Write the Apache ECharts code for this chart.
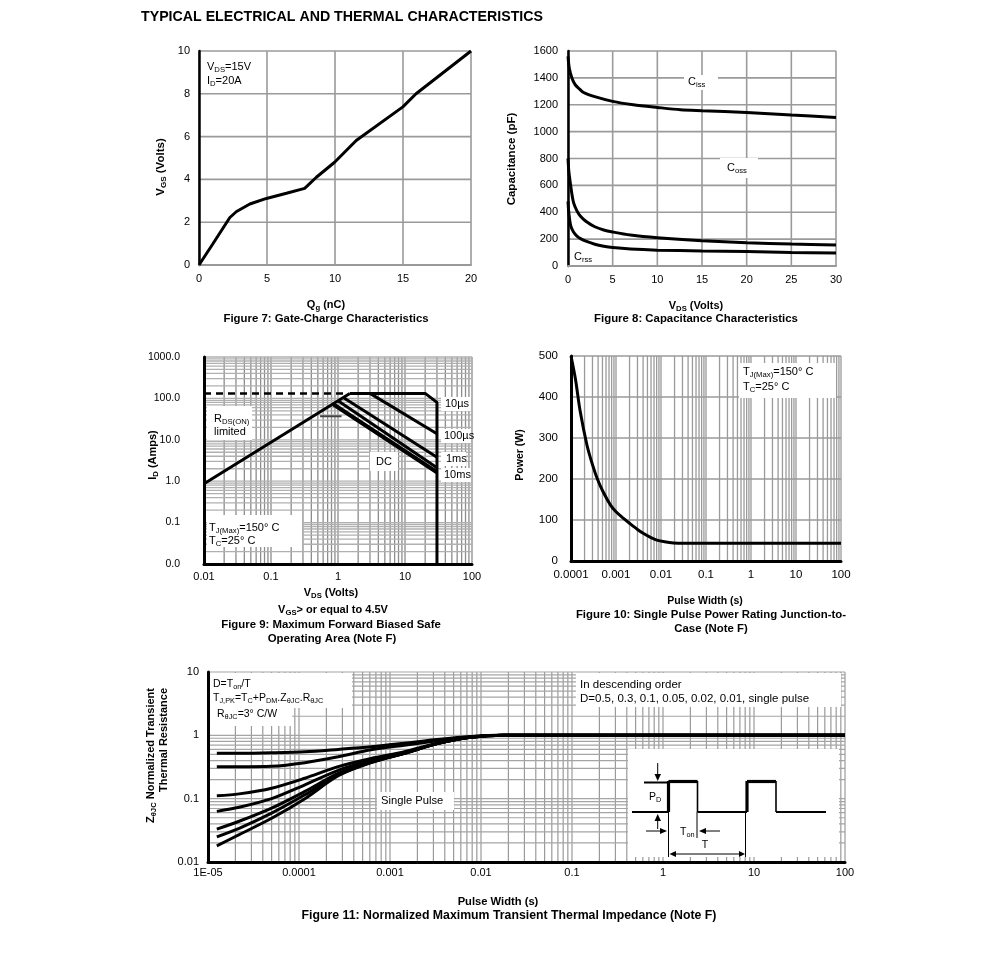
<!DOCTYPE html>
<html><head><meta charset="utf-8">
<script src="https://cdn.jsdelivr.net/npm/echarts@6/dist/echarts.min.js"></script>
<style>html,body{margin:0;padding:0;background:#fff;}#c{width:991px;height:971px;}</style>
</head><body><div id="c"></div>
<script>
// ---------- DATA ----------
// Figure 7: gate charge
const qg7  = [0, 1, 2.27, 2.76, 3.74, 4.96, 6.43, 7.77, 8.63, 9.97, 11.56, 14.99, 15.96, 20];
const vgs7 = [0, 0.97, 2.22, 2.5, 2.85, 3.11, 3.35, 3.58, 4.1, 4.8, 5.82, 7.39, 8.0, 10];
const xTicks7 = [0, 5, 10, 15, 20];
const yTicks7 = [0, 2, 4, 6, 8, 10];
// Figure 8: capacitance
const vCiss = [0, 0.15, 0.45, 0.8, 1.2, 1.75, 2.9, 5, 7.3, 10, 12.6, 15, 20, 25, 30];
const ciss  = [1560, 1470, 1398, 1350, 1323, 1291, 1262, 1225, 1200, 1180, 1163, 1156, 1143, 1124, 1106];
const vCoss = [0, 0.1, 0.26, 0.45, 0.63, 1, 1.4, 2, 3, 4, 5, 7, 10, 15, 20, 25, 30];
const coss  = [800, 700, 618, 530, 470, 410, 370, 333, 292, 268, 253, 230, 210, 188, 173, 163, 156];
const vCrss = [0, 0.1, 0.3, 0.6, 1, 1.5, 2, 3, 4, 5, 7, 10, 15, 20, 25, 30];
const crss  = [480, 390, 300, 255, 223, 200, 185, 162, 147, 137, 126, 118, 112, 107, 101, 96];
const xTicks8 = [0, 5, 10, 15, 20, 25, 30];
const yTicks8 = [0, 200, 400, 600, 800, 1000, 1200, 1400, 1600];
// Figure 9: SOA
const rdsV = [0.01, 1.5],  rdsI = [0.87, 132];
const dashV = [0.01, 1.3], dashI = [132, 132];
const us10V = [1.5, 20, 30, 30], us10I = [132, 132, 80, 0.01];
const us100V = [3, 30], us100I = [132, 14];
const ms1V = [1.2, 30], ms1I = [105, 3.8];
const ms10V = [1.0, 30], ms10I = [88, 2.1];
const dcV = [0.85, 30], dcI = [72, 1.65];
const segV = [0.54, 1.13], segI = [37, 37];
const xLabels9 = ['0.01', '0.1', '1', '10', '100'];
const yLabels9 = ['0.0', '0.1', '1.0', '10.0', '100.0', '1000.0'];
// Figure 10: single pulse power
const tp10 = [1e-4, 1.25e-4, 1.6e-4, 2.26e-4, 3e-4, 3.8e-4, 5e-4, 7.5e-4, 1e-3, 1.47e-3, 2e-3, 3e-3, 4.1e-3, 6e-3, 8.1e-3, 0.012, 0.019, 0.03, 0.1, 1, 10, 100];
const pw10 = [500, 445, 365, 283, 235, 202, 172, 137, 120, 104, 92, 77, 67, 57, 51, 47, 44, 43, 43, 43, 43, 43];
const xLabels10 = ['0.0001', '0.001', '0.01', '0.1', '1', '10', '100'];
const yTicks10 = [0, 100, 200, 300, 400, 500];
// Figure 11: transient thermal impedance
const t11  = [1.25e-5, 2.2e-5, 5e-5, 1.16e-4, 2.7e-4, 6.2e-4, 1.44e-3, 3.3e-3, 7.7e-3, 0.018, 0.05, 100];
const z05  = [0.52, 0.52, 0.53, 0.55, 0.60, 0.66, 0.75, 0.86, 0.96, 1.0, 1.0, 1.0];
const z03  = [0.32, 0.32, 0.325, 0.37, 0.46, 0.59, 0.70, 0.82, 0.95, 1.0, 1.0, 1.0];
const z01  = [0.111, 0.119, 0.146, 0.21, 0.32, 0.43, 0.55, 0.75, 0.93, 1.0, 1.0, 1.0];
const z005 = [0.063, 0.073, 0.10, 0.165, 0.28, 0.40, 0.53, 0.74, 0.93, 1.0, 1.0, 1.0];
const z002 = [0.033, 0.044, 0.071, 0.13, 0.25, 0.38, 0.52, 0.74, 0.93, 1.0, 1.0, 1.0];
const z001 = [0.025, 0.034, 0.059, 0.115, 0.237, 0.375, 0.52, 0.74, 0.93, 1.0, 1.0, 1.0];
const zsp  = [0.018, 0.027, 0.049, 0.10, 0.23, 0.37, 0.52, 0.74, 0.93, 1.0, 1.0, 1.0];
const xLabels11 = ['1E-05', '0.0001', '0.001', '0.01', '0.1', '1', '10', '100'];
const yLabels11 = ['0.01', '0.1', '1', '10'];
// log grid multipliers
const mults = [1, 2, 3, 4, 5, 6, 7, 8, 9];

// ---------- HELPERS ----------
const FONT = '"Liberation Sans", Arial, sans-serif';
const zip = (a, b) => a.map((v, i) => [v, b[i]]);
function logGrid(decades, last) { const o = []; decades.forEach(d => mults.forEach(m => o.push(d * m))); o.push(last); return o; }
function gridLines(idx, xs, ys, x0, y0, cx, cy, w) {
  const data = xs.map(v => [v, y0, 0]).concat(ys.map(v => [x0, v, 1]));
  return {
    type: 'custom', xAxisIndex: idx, yAxisIndex: idx, data: data, z: 1, silent: true, animation: false, clip: false,
    renderItem: function (params, api) {
      const cs = params.coordSys;
      const p = api.coord([api.value(0), api.value(1)]);
      const horiz = api.value(2) === 1;
      return {
        type: 'line',
        shape: horiz ? { x1: cs.x, y1: p[1], x2: cs.x + cs.width, y2: p[1] } : { x1: p[0], y1: cs.y, x2: p[0], y2: cs.y + cs.height },
        style: { stroke: horiz ? cy : cx, lineWidth: w }
      };
    }
  };
}
function curve(idx, data, w, extra) {
  return Object.assign({
    type: 'line', xAxisIndex: idx, yAxisIndex: idx, data: data, symbol: 'none', showSymbol: false,
    lineStyle: { color: '#000', width: w }, z: 10, animation: false, silent: true
  }, extra || {});
}
const plainFmt = (v) => String(v);
const labelStyle = (margin, fmt, size) => ({ color: '#000', fontSize: size || 11, fontFamily: FONT, margin: margin, formatter: fmt || plainFmt });
const logFmt = (labels, minExp) => (v) => labels[Math.round(Math.log10(v)) - minExp];
function axisLineStyle(color, width) { return { show: true, onZero: false, lineStyle: { color: color, width: width } }; }

function T(x, y, text, o) {
  o = o || {};
  const size = o.size || 11;
  const weight = o.bold ? 'bold' : 'normal';
  return {
    type: 'text', x: x, y: y, z: 20, rotation: o.rot ? Math.PI / 2 : 0, silent: true,
    style: {
      text: text, fill: '#000', fontSize: size, fontFamily: FONT, fontWeight: weight,
      lineHeight: Math.round(size * 1.25),
      align: o.align || 'left', verticalAlign: 'middle', textAlign: o.align || 'left', textVerticalAlign: 'middle',
      rich: { s: { fontSize: size * 0.7, fontFamily: FONT, fontWeight: weight, fill: '#000', lineHeight: Math.round(size * 0.66), verticalAlign: 'bottom' } }
    }
  };
}
function box(x, y, w, h) { return { type: 'rect', z: 5, silent: true, shape: { x: x, y: y, width: w, height: h }, style: { fill: '#fff' } }; }
function pl(points, w) { return { type: 'polyline', z: 20, silent: true, shape: { points: points }, style: { stroke: '#000', lineWidth: w, fill: null } }; }
function tri(points) { return { type: 'polygon', z: 20, silent: true, shape: { points: points }, style: { fill: '#000' } }; }

// ---------- OPTION ----------
const grids = [
  { left: 199, top: 51, width: 272, height: 214 },
  { left: 568, top: 51, width: 268, height: 215 },
  { left: 204, top: 357, width: 268, height: 207 },
  { left: 571, top: 356, width: 270, height: 205 },
  { left: 208, top: 672, width: 637, height: 190 }
].map(g => Object.assign({ containLabel: false, outerBoundsMode: 'none', show: false }, g));

const xAxes = [
  { gridIndex: 0, type: 'value', min: 0, max: 20, interval: 5, axisLine: axisLineStyle('#999', 2), axisLabel: labelStyle(8) },
  { gridIndex: 1, type: 'value', min: 0, max: 30, interval: 5, axisLine: axisLineStyle('#999', 2), axisLabel: labelStyle(8) },
  { gridIndex: 2, type: 'log', logBase: 10, min: 0.01, max: 100, axisLine: axisLineStyle('#000', 3), axisLabel: labelStyle(7, logFmt(xLabels9, -2)) },
  { gridIndex: 3, type: 'log', logBase: 10, min: 1e-4, max: 100, axisLine: axisLineStyle('#000', 3), axisLabel: labelStyle(8, logFmt(xLabels10, -4), 11.5) },
  { gridIndex: 4, type: 'log', logBase: 10, min: 1e-5, max: 100, axisLine: axisLineStyle('#000', 3), axisLabel: labelStyle(5, logFmt(xLabels11, -5)) }
].map(a => Object.assign({ axisTick: { show: false }, splitLine: { show: false }, minorSplitLine: { show: false }, z: 8 }, a));

const yAxes = [
  { gridIndex: 0, type: 'value', min: 0, max: 10, interval: 2, axisLine: axisLineStyle('#000', 2.5), axisLabel: labelStyle(9) },
  { gridIndex: 1, type: 'value', min: 0, max: 1600, interval: 200, axisLine: axisLineStyle('#000', 2.5), axisLabel: labelStyle(10) },
  { gridIndex: 2, type: 'log', logBase: 10, min: 0.01, max: 1000, axisLine: axisLineStyle('#000', 3), axisLabel: labelStyle(24, logFmt(yLabels9, -2), 10.5) },
  { gridIndex: 3, type: 'value', min: 0, max: 500, interval: 100, axisLine: axisLineStyle('#000', 3), axisLabel: labelStyle(13, null, 11.5) },
  { gridIndex: 4, type: 'log', logBase: 10, min: 0.01, max: 10, axisLine: axisLineStyle('#000', 3), axisLabel: labelStyle(9) && labelStyle(9, logFmt(yLabels11, -2)) }
].map(a => Object.assign({ axisTick: { show: false }, splitLine: { show: false }, minorSplitLine: { show: false }, z: 8 }, a));

const GC = '#9a9a9a';
const series = [
  gridLines(0, xTicks7, yTicks7, 0, 0, GC, GC, 1.6),
  gridLines(1, xTicks8, yTicks8, 0, 0, GC, GC, 1.6),
  gridLines(2, logGrid([0.01, 0.1, 1, 10], 100), logGrid([0.01, 0.1, 1, 10, 100], 1000), 0.01, 0.01, '#8c8c8c', '#b0b0b0', 1.3),
  gridLines(3, logGrid([1e-4, 1e-3, 1e-2, 0.1, 1, 10], 100), yTicks10, 1e-4, 0, GC, GC, 1.3),
  gridLines(4, logGrid([1e-5, 1e-4, 1e-3, 1e-2, 0.1, 1, 10], 100), logGrid([0.01, 0.1, 1], 10), 1e-5, 0.01, GC, '#a5a5a5', 1.2),
  // fig 7
  curve(0, zip(qg7, vgs7), 3),
  // fig 8
  curve(1, zip(vCiss, ciss), 3, { smooth: 0.3 }),
  curve(1, zip(vCoss, coss), 3, { smooth: 0.3 }),
  curve(1, zip(vCrss, crss), 3, { smooth: 0.3 }),
  // fig 9
  curve(2, zip(rdsV, rdsI), 3),
  curve(2, zip(dashV, dashI), 2.5, { lineStyle: { color: '#000', width: 2.5, type: [7, 5] } }),
  curve(2, zip(us10V, us10I), 3),
  curve(2, zip(us100V, us100I), 3),
  curve(2, zip(ms1V, ms1I), 3),
  curve(2, zip(ms10V, ms10I), 3),
  curve(2, zip(dcV, dcI), 4.2),
  curve(2, zip(segV, segI), 2, { lineStyle: { color: '#444', width: 2 } }),
  // fig 10
  curve(3, zip(tp10, pw10), 3, { smooth: 0.3 }),
  // fig 11
  curve(4, zip(t11, z05), 3, { smooth: 0.3 }),
  curve(4, zip(t11, z03), 3, { smooth: 0.3 }),
  curve(4, zip(t11, z01), 3, { smooth: 0.3 }),
  curve(4, zip(t11, z005), 3, { smooth: 0.3 }),
  curve(4, zip(t11, z002), 3, { smooth: 0.3 }),
  curve(4, zip(t11, z001), 3, { smooth: 0.3 }),
  curve(4, zip(t11, zsp), 3, { smooth: 0.3 })
];

const graphics = [
  // white label boxes
  box(201, 59, 50, 29),
  box(684, 75, 34, 15), box(720, 158, 38, 20), box(571, 249, 26, 16),
  box(207, 406, 45, 34), box(207, 515, 95, 32), box(370, 452, 28, 19),
  box(441, 397, 30, 14), box(441, 429, 30, 14), box(441, 452, 25, 14), box(441, 468, 30, 14),
  box(739, 363, 97, 35),
  box(210, 673, 142, 35), box(210, 708, 82, 18), box(576, 673, 265, 34), box(377, 792, 77, 18),
  box(628, 749, 211, 108),
  // title
  T(141, 17, 'TYPICAL ELECTRICAL AND THERMAL CHARACTERISTICS', { size: 14.2, bold: true }),
  // fig 7
  T(161, 167, 'V{s|GS} (Volts)', { size: 11.5, bold: true, rot: true, align: 'center' }),
  T(326, 305, 'Q{s|g} (nC)', { size: 11, bold: true, align: 'center' }),
  T(326, 319, 'Figure 7: Gate-Charge Characteristics', { size: 11.4, bold: true, align: 'center' }),
  T(207, 67, 'V{s|DS}=15V'), T(207, 81, 'I{s|D}=20A'),
  // fig 8
  T(512, 159, 'Capacitance (pF)', { size: 11.5, bold: true, rot: true, align: 'center' }),
  T(696, 306, 'V{s|DS} (Volts)', { size: 11, bold: true, align: 'center' }),
  T(696, 319, 'Figure 8: Capacitance Characteristics', { size: 11.4, bold: true, align: 'center' }),
  T(688, 82, 'C{s|iss}'), T(727, 168, 'C{s|oss}'), T(574, 257, 'C{s|rss}'),
  // fig 9
  T(153, 455, 'I{s|D} (Amps)', { size: 11, bold: true, rot: true, align: 'center' }),
  T(331, 593, 'V{s|DS} (Volts)', { size: 11, bold: true, align: 'center' }),
  T(333, 610, 'V{s|GS}> or equal to 4.5V', { size: 11, bold: true, align: 'center' }),
  T(331, 625, 'Figure 9: Maximum Forward Biased Safe', { size: 11.4, bold: true, align: 'center' }),
  T(332, 639, 'Operating Area (Note F)', { size: 11.4, bold: true, align: 'center' }),
  T(214, 419, 'R{s|DS(ON)}'), T(214, 432, 'limited'),
  T(445, 404, '10µs'), T(444, 436, '100µs'), T(446, 459, '1ms'), T(444, 475, '10ms'),
  T(384, 462, 'DC', { align: 'center' }),
  T(209, 528, 'T{s|J(Max)}=150° C'), T(209, 541, 'T{s|C}=25° C'),
  // fig 10
  T(520, 455, 'Power (W)', { size: 10.5, bold: true, rot: true, align: 'center' }),
  T(705, 601, 'Pulse Width (s)', { size: 10.5, bold: true, align: 'center' }),
  T(711, 615, 'Figure 10: Single Pulse Power Rating Junction-to-', { size: 11.4, bold: true, align: 'center' }),
  T(711, 629, 'Case (Note F)', { size: 11.4, bold: true, align: 'center' }),
  T(743, 372, 'T{s|J(Max)}=150° C'), T(743, 387, 'T{s|C}=25° C'),
  // fig 11
  T(151, 688, 'Z{s|θJC} Normalized Transient', { size: 11, bold: true, rot: true, align: 'right' }),
  T(164, 688, 'Thermal Resistance', { size: 11, bold: true, rot: true, align: 'right' }),
  T(498, 902, 'Pulse Width (s)', { size: 11.2, bold: true, align: 'center' }),
  T(509, 916, 'Figure 11: Normalized Maximum Transient Thermal Impedance (Note F)', { size: 12.3, bold: true, align: 'center' }),
  T(213, 684, 'D=T{s|on}/T', { size: 10.5 }),
  T(213, 698, 'T{s|J,PK}=T{s|C}+P{s|DM}.Z{s|θJC}.R{s|θJC}', { size: 10.5 }),
  T(217, 714, 'R{s|θJC}=3° C/W', { size: 10.5 }),
  T(580, 685, 'In descending order', { size: 11.5 }),
  T(580, 699, 'D=0.5, 0.3, 0.1, 0.05, 0.02, 0.01, single pulse', { size: 11.5 }),
  T(381, 801, 'Single Pulse', { size: 11.2 }),
  // inset waveform
  pl([[632, 812], [668.5, 812]], 2),
  pl([[644, 782.5], [668, 782.5]], 2),
  pl([[668.5, 812], [668.5, 781]], 3.2),
  pl([[668.5, 781.5], [697.5, 781.5]], 3.2),
  pl([[697.5, 781], [697.5, 812]], 1.6),
  pl([[697.5, 812], [747, 812]], 2),
  pl([[747, 812], [747, 781]], 3.2),
  pl([[747, 781.5], [776, 781.5]], 3.2),
  pl([[776, 781], [776, 812]], 1.6),
  pl([[776, 812], [826, 812]], 2),
  pl([[668.5, 812], [668.5, 857]], 1), pl([[697, 812], [697, 838]], 1), pl([[745.5, 812], [745.5, 857]], 1),
  pl([[657.7, 763], [657.7, 774]], 1), tri([[654.5, 774], [661, 774], [657.7, 781]]),
  pl([[657.7, 829], [657.7, 821]], 1), tri([[654.5, 821], [661, 821], [657.7, 814]]),
  pl([[646, 831], [661, 831]], 1), tri([[660, 828], [660, 834], [667, 831]]),
  pl([[720, 831], [706, 831]], 1), tri([[706, 828], [706, 834], [699, 831]]),
  pl([[675, 854], [740, 854]], 1), tri([[676, 851], [676, 857], [669.5, 854]]), tri([[739, 851], [739, 857], [745, 854]]),
  T(649, 797, 'P{s|D}', { size: 10.5 }),
  T(680, 832, 'T{s|on}', { size: 10.5 }),
  T(705, 845, 'T', { size: 10.5, align: 'center' })
];

const chart = echarts.init(document.getElementById('c'));
chart.setOption({
  animation: false,
  backgroundColor: '#fff',
  grid: grids, xAxis: xAxes, yAxis: yAxes, series: series, graphic: { elements: graphics }
});
</script>
</body></html>
